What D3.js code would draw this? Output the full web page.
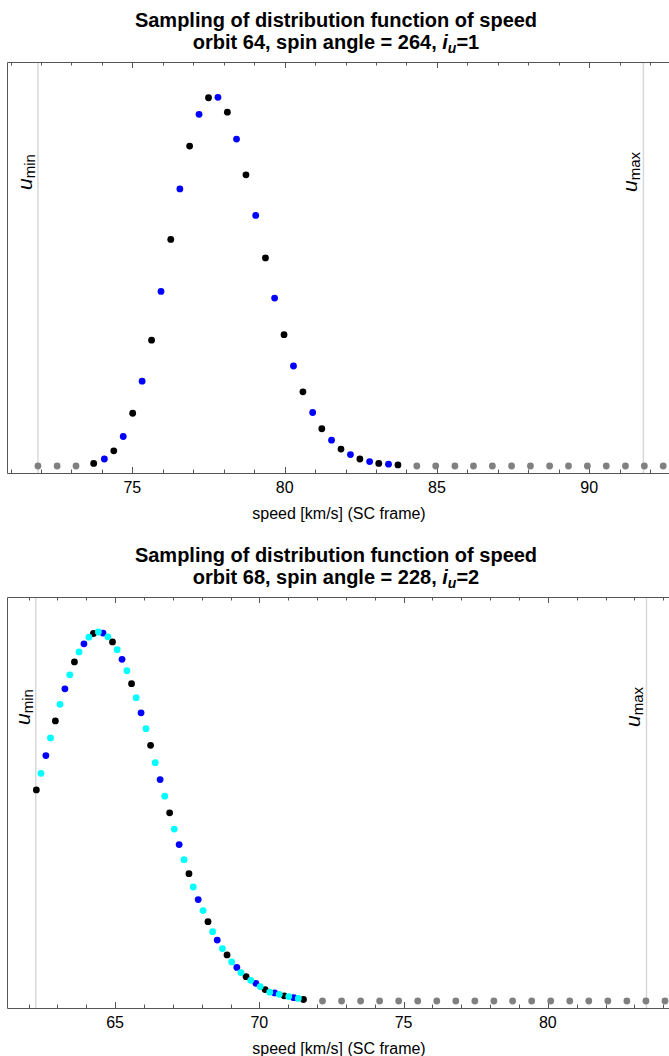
<!DOCTYPE html>
<html>
<head>
<meta charset="utf-8">
<script src="https://cdn.jsdelivr.net/npm/d3@7"></script>
<style>
  body { margin: 0; background: #fff; }
  text { font-family: "Liberation Sans", Arial, sans-serif; }
</style>
</head>
<body>
<div id="chart"></div>
<script>
// ---- panel 1: orbit 64, spin angle 264, i_u = 1 ----
var p1SpeedBlack = [73.73, 74.39, 75.01, 75.63, 76.26, 76.88, 77.50, 78.12, 78.73, 79.37, 79.98, 80.60, 81.22, 81.85, 82.47, 83.09, 83.72]
var p1ValBlack = [0.7, 4.1, 14.3, 34.1, 61.4, 86.7, 99.8, 95.9, 78.9, 56.4, 35.6, 20.1, 10.1, 4.6, 1.9, 0.7, 0.3]
var p1SpeedBlue = [74.08, 74.70, 75.32, 75.94, 76.56, 77.19, 77.81, 78.42, 79.05, 79.67, 80.29, 80.92, 81.54, 82.16, 82.79, 83.41]
var p1ValBlue = [1.9, 8.0, 23.0, 47.3, 75.1, 95.3, 99.9, 88.6, 67.9, 45.5, 27.1, 14.5, 7.0, 3.1, 1.2, 0.5]
var p1SpeedGray = [71.90, 72.53, 73.15, 84.34, 84.96, 85.59, 86.20, 86.82, 87.45, 88.07, 88.70, 89.32, 89.94, 90.56, 91.19, 91.81, 92.43]
var p1Umin = 71.90, p1Umax = 91.78
var p1Ticks = [75, 80, 85, 90]

// ---- panel 2: orbit 68, spin angle 228, i_u = 2 ----
var p2SpeedBlack = [62.27, 62.93, 63.59, 64.25, 64.91, 65.57, 66.23, 66.89, 67.56, 68.22, 68.88, 69.54, 70.20, 70.86, 71.53]
var p2ValBlack = [57.2, 75.9, 91.9, 99.6, 97.3, 86.0, 69.3, 51.0, 34.5, 21.5, 12.5, 6.6, 3.1, 1.4, 0.4]
var p2SpeedBlue = [62.60, 63.26, 63.92, 64.58, 65.24, 65.90, 66.56, 67.22, 67.88, 68.54, 69.22, 69.88, 70.53, 71.19]
var p2ValBlue = [66.5, 84.6, 96.8, 99.7, 92.6, 78.1, 60.0, 42.4, 27.5, 16.5, 9.1, 4.8, 2.2, 0.9]
var p2SpeedCyan = [62.43, 62.76, 63.09, 63.43, 63.75, 64.09, 64.42, 64.75, 65.07, 65.41, 65.73, 66.07, 66.39, 66.72, 67.05, 67.39, 67.71, 68.05, 68.38, 68.72, 69.04, 69.36, 69.70, 70.03, 70.36, 70.69, 71.02, 71.35]
var p2ValCyan = [61.7, 71.3, 80.4, 88.4, 94.6, 98.6, 100.0, 98.7, 95.2, 89.5, 82.2, 73.8, 64.6, 55.5, 46.6, 38.3, 30.9, 24.5, 18.8, 14.2, 10.6, 7.7, 5.6, 3.9, 2.4, 1.8, 1.2, 0.7]
var p2SpeedGray = [72.19, 72.85, 73.51, 74.17, 74.83, 75.49, 76.15, 76.81, 77.47, 78.13, 78.78, 79.44, 80.10, 80.76, 81.42, 82.08, 82.74, 83.40, 84.06]
var p2Umin = 62.25, p2Umax = 83.42
var p2Ticks = [65, 70, 75, 80]

var width = 669, height = 1056
var svg = d3.select("#chart").append("svg")
  .attr("width", width)
  .attr("height", height)

function pts(s, v) {
  return s.map(function (d, i) { return { x: d, y: v ? v[i] : 0 } })
}

function drawPanel(top, xDomain, ticks, umin, umax, series, line2) {
  var plotH = 411
  var g = svg.append("g").attr("transform", "translate(0," + top + ")")

  var x = d3.scaleLinear().domain(xDomain).range([7.5, 669])
  var y = d3.scaleLinear().domain([0, 100]).range([404, 35])

  // titles
  g.append("text")
    .attr("x", 336).attr("y", -35)
    .attr("text-anchor", "middle")
    .attr("font-size", 20).attr("font-weight", "bold")
    .text("Sampling of distribution function of speed")
  var t2 = g.append("text")
    .attr("x", 336).attr("y", -13)
    .attr("text-anchor", "middle")
    .attr("font-size", 20).attr("font-weight", "bold")
  t2.append("tspan").text(line2[0])
  t2.append("tspan").attr("font-style", "italic").text("i")
  t2.append("tspan").attr("font-style", "italic").attr("font-size", 14).attr("dy", 4).text("u")
  t2.append("tspan").attr("dy", -4).text(line2[1])

  // u_min / u_max lines
  g.selectAll(".ulim").data([umin, umax]).enter().append("line")
    .attr("x1", function (d) { return x(d) }).attr("x2", function (d) { return x(d) })
    .attr("y1", 0).attr("y2", plotH)
    .attr("stroke", "#d8d8d8").attr("stroke-width", 1.5)

  var labs = [["min", umin], ["max", umax]]
  labs.forEach(function (l) {
    var t = g.append("text")
      .attr("transform", "translate(" + (x(l[1]) - 6) + ",110) rotate(-90)")
      .attr("text-anchor", "middle")
      .attr("font-size", 21)
    t.append("tspan").attr("font-style", "italic").text("u")
    t.append("tspan").attr("font-size", 15).attr("dy", 3).text(l[0])
  })

  // frame
  var minor = d3.range(Math.ceil(xDomain[0]), Math.floor(xDomain[1]) + 1)
  g.append("path")
    .attr("d", "M669,0.5H7.5V" + (plotH + 0.5) + "H669")
    .attr("fill", "none").attr("stroke", "#555").attr("stroke-width", 1)
  g.selectAll(".tk").data(minor).enter().append("path")
    .attr("d", function (d) {
      var len = ticks.indexOf(d) >= 0 ? 6 : 3.5
      var px = Math.round(x(d)) + 0.5
      return "M" + px + "," + plotH + "v" + (-len) + "M" + px + ",0v" + len
    })
    .attr("stroke", "#555").attr("stroke-width", 1)

  g.selectAll(".tl").data(ticks).enter().append("text")
    .attr("x", function (d) { return x(d) })
    .attr("y", plotH + 20)
    .attr("text-anchor", "middle")
    .attr("font-size", 16)
    .text(function (d) { return d })

  g.append("text")
    .attr("x", 339).attr("y", plotH + 46)
    .attr("text-anchor", "middle")
    .attr("font-size", 16)
    .text("speed [km/s] (SC frame)")

  // points
  series.forEach(function (s) {
    g.append("g").selectAll("circle")
      .data(s.data).enter().append("circle")
      .attr("cx", function (d) { return x(d.x) })
      .attr("cy", function (d) { return y(d.y) })
      .attr("r", 3.4)
      .attr("fill", s.color)
  })
}

drawPanel(62, [70.9, 92.62], p1Ticks, p1Umin, p1Umax, [
  { data: pts(p1SpeedGray), color: "#808080" },
  { data: pts(p1SpeedBlack, p1ValBlack), color: "#000000" },
  { data: pts(p1SpeedBlue, p1ValBlue), color: "#0000ff" }
], ["orbit 64, spin angle = 264, ", "=1"])

drawPanel(597, [61.27, 84.2], p2Ticks, p2Umin, p2Umax, [
  { data: pts(p2SpeedGray), color: "#808080" },
  { data: pts(p2SpeedBlack, p2ValBlack), color: "#000000" },
  { data: pts(p2SpeedBlue, p2ValBlue), color: "#0000ff" },
  { data: pts(p2SpeedCyan, p2ValCyan), color: "#00ffff" }
], ["orbit 68, spin angle = 228, ", "=2"])
</script>
</body>
</html>
